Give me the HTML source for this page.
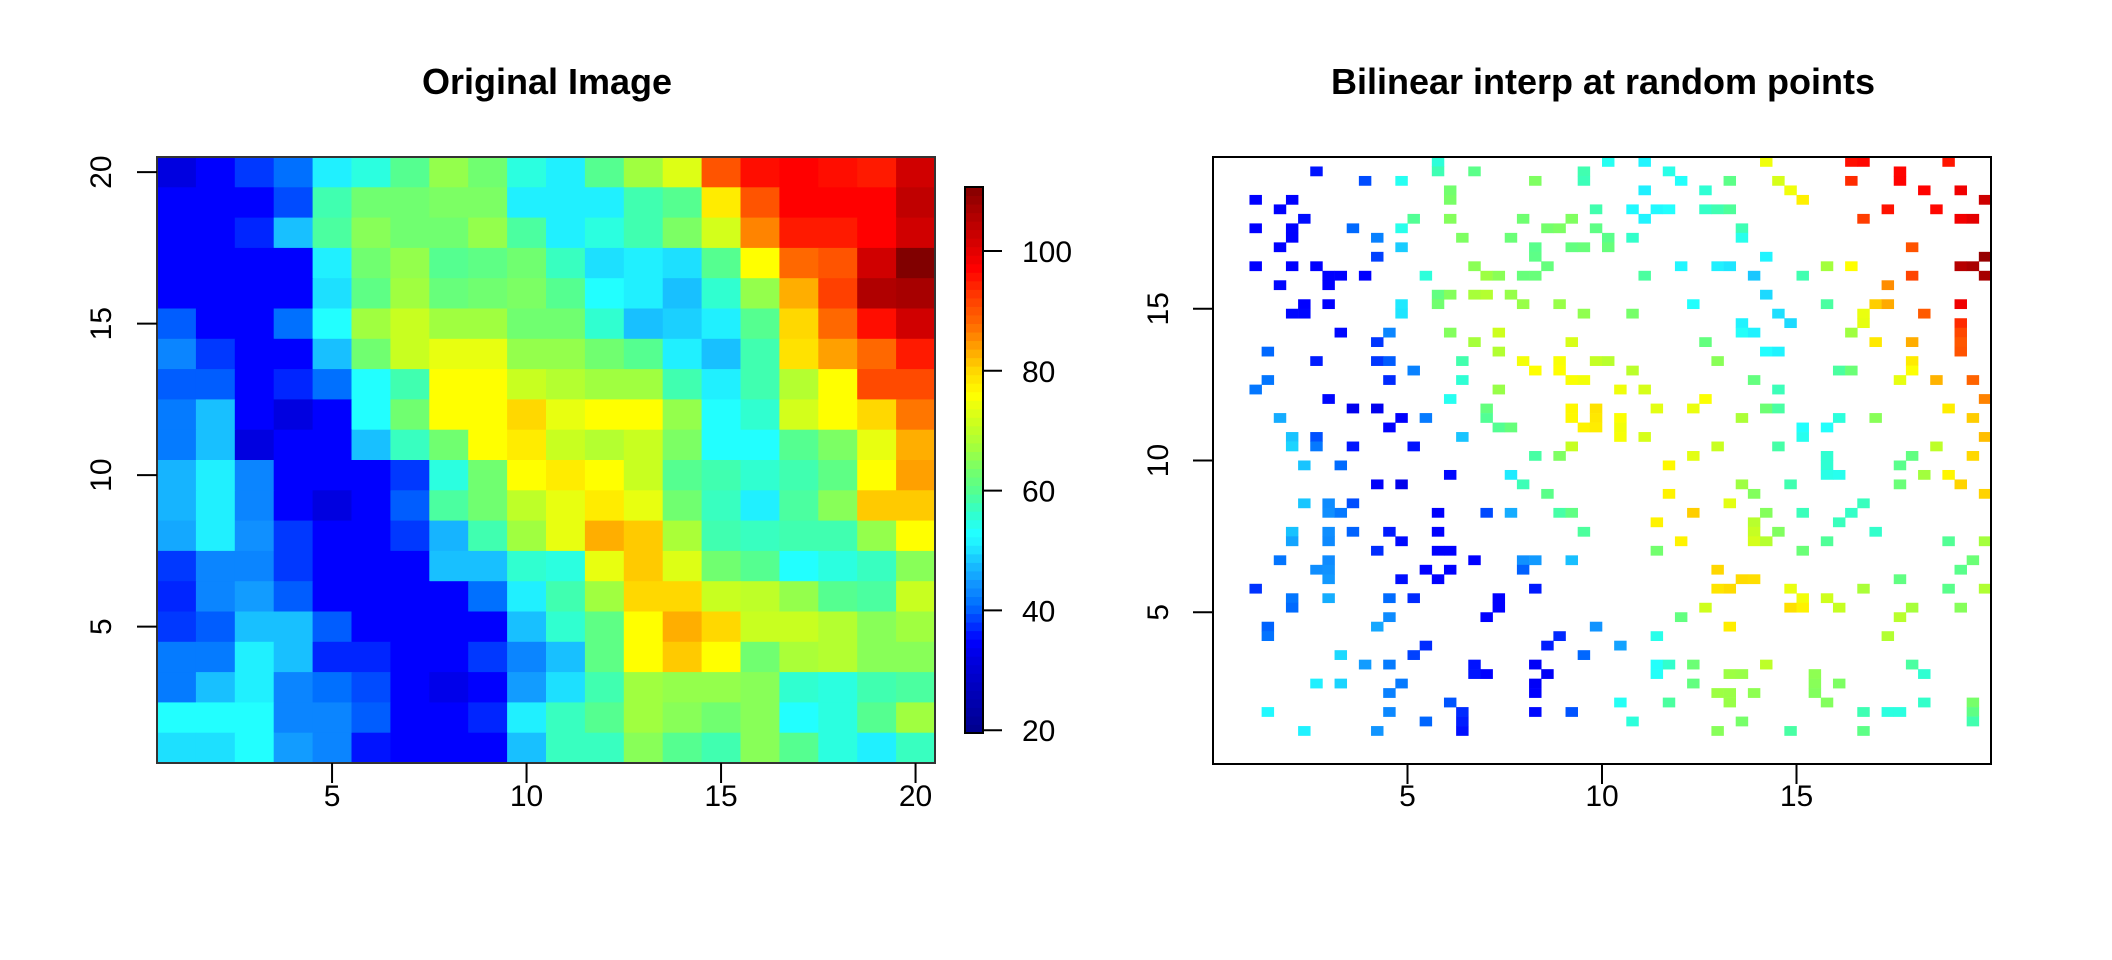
<!DOCTYPE html>
<html><head><meta charset="utf-8">
<style>
html,body{margin:0;padding:0;background:#fff;}
svg{display:block;font-family:"Liberation Sans",Arial,sans-serif;}
</style></head>
<body>
<svg id="chart" width="2112" height="960" viewBox="0 0 2112 960" xmlns="http://www.w3.org/2000/svg">
<rect x="0" y="0" width="2112" height="960" fill="#fff"/>
<text x="547" y="94" font-size="36" font-weight="bold" text-anchor="middle">Original Image</text>
<text x="1603" y="94" font-size="36" font-weight="bold" text-anchor="middle">Bilinear interp at random points</text>
<g id="heat"></g>
<g id="cbar"></g>
<g id="pts"></g>
<g id="axes"></g>
</svg>
<script>
// Heatmap values, rows listed from top (y=20) to bottom (y=1), columns x=1..20
const heatRows = [
[32,35,38,41,51,55,60,66,63,55,51,60,67,73,90,96,97,96,95,102],
[35,35,35,39,58,63,63,64,64,51,51,51,58,60,78,90,97,97,97,104],
[35,35,37,48,59,65,63,63,66,59,51,55,58,64,72,86,95,95,97,102],
[35,35,35,35,51,63,66,60,61,63,57,50,51,50,60,76,88,90,102,111],
[35,35,35,35,50,61,67,62,63,64,60,53,51,48,56,66,83,92,106,107],
[40,35,35,41,53,67,71,67,67,63,63,56,48,49,51,60,80,88,96,102],
[43,38,35,35,48,63,71,74,74,66,66,63,60,51,48,58,79,84,88,95],
[40,40,35,37,41,53,58,76,76,71,69,67,67,58,51,58,69,76,91,91],
[42,48,35,32,35,53,63,76,76,80,74,76,76,66,53,56,72,76,80,87],
[42,48,32,35,35,48,57,63,76,78,71,69,71,64,53,53,60,64,74,83],
[47,51,43,35,35,35,38,55,63,76,78,76,71,60,58,56,58,61,76,84],
[47,51,43,35,32,35,40,59,63,70,74,78,74,63,57,51,59,65,81,81],
[46,51,44,38,35,35,38,47,58,67,74,83,81,68,58,57,58,58,66,76],
[38,43,43,38,35,35,35,48,48,56,55,74,81,73,63,60,53,55,57,65],
[37,43,45,40,35,35,35,35,41,51,58,67,80,80,71,70,66,60,59,71],
[38,40,48,48,40,35,35,35,35,48,56,61,76,83,80,71,71,69,65,67],
[42,42,51,48,37,37,35,35,38,43,48,61,76,81,76,63,68,69,65,65],
[42,48,51,43,41,39,35,33,35,45,50,58,67,66,66,65,56,55,58,59],
[53,53,53,43,43,40,35,35,37,51,57,60,67,65,63,65,53,55,60,67],
[50,50,53,45,43,36,35,35,35,48,57,57,65,60,58,65,60,55,51,57]
];
const xTicks = [5,10,15,20];
const yTicks = [5,10,15,20];
const cbarTicks = [20,40,60,80,100];
const ptXTicks = [5,10,15];
const ptYTicks = [5,10,15];
// Random sample points on a 64x64 interpolation grid: [gridRow (from top), [gridCols]]
const ptGridRows = [
[0,[18,32,35,45,52,53,60]],[1,[8,18,21,30,37,56]],[2,[12,15,26,30,38,42,46,52,56]],
[3,[19,35,40,47,58,61]],[4,[3,6,19,48,63]],[5,[5,31,34,36,37,40,41,42,55,59]],
[6,[7,16,19,25,29,35,53,61,62]],[7,[3,6,11,15,27,28,31,43]],[8,[6,13,20,24,32,34,43]],
[9,[5,15,26,29,30,32,57]],[10,[13,26,45,63]],[11,[3,6,8,21,27,38,41,42,50,52,61,62]],
[12,[9,10,12,17,22,23,25,26,35,44,48,57,63]],[13,[5,9,55]],[14,[18,19,21,22,24,45]],
[15,[7,9,15,18,25,28,39,50,54,55,61]],[16,[6,7,15,30,34,46,53,58]],[17,[43,47,53,61]],
[18,[10,14,19,23,43,44,52,61]],[19,[13,21,29,40,54,57,61]],[20,[4,23,45,46,61]],
[21,[8,13,14,20,25,28,31,32,41,57]],[22,[16,26,28,34,51,52,57]],[23,[4,14,20,29,30,44,56,59,62]],
[24,[3,23,33,35,46]],[25,[9,19,40,63]],[26,[11,13,22,29,31,36,39,45,46,60]],
[27,[5,15,17,22,29,31,33,43,51,54,62]],[28,[14,23,24,30,31,33,48,50]],[29,[6,8,20,33,35,48,63]],
[30,[6,8,11,16,29,41,46,59]],[31,[26,28,39,50,57,62]],[32,[7,10,37,50,56]],
[33,[19,24,50,51,58,60]],[34,[13,15,25,43,47,56,61]],[35,[27,37,44,63]],[36,[7,9,11,42,53]],
[37,[9,10,18,22,24,28,29,39,45,48,52]],[38,[36,44,51]],[39,[6,9,11,14,18,30,44,46,54]],
[40,[6,9,15,38,44,45,50,60,63]],[41,[13,18,19,36,48]],[42,[5,9,21,25,26,29,62]],
[43,[8,9,17,19,25,41,61]],[44,[9,15,18,43,44,56]],[45,[3,26,41,42,47,53,60,63]],
[46,[6,9,14,16,23,48,50]],[47,[6,23,40,47,48,51,57,61]],[48,[14,22,38,56]],[49,[4,13,31,42]],
[50,[4,28,36,55]],[51,[17,27,33]],[52,[10,16,30]],[53,[12,14,21,26,36,37,39,45,57]],
[54,[21,22,27,36,42,43,49,58]],[55,[8,10,15,26,39,49,51]],[56,[14,26,41,42,44,49]],
[57,[19,33,37,42,50,58,62]],[58,[4,14,20,26,29,53,55,56,62]],[59,[17,20,34,43,62]],
[60,[7,13,20,41,47,53]]
];

const NS="http://www.w3.org/2000/svg";
function mk(tag,attrs,parent){const e=document.createElementNS(NS,tag);for(const k in attrs)e.setAttribute(k,attrs[k]);parent.appendChild(e);return e;}
const stops=[[18,[0,0,128]],[32,[0,0,224]],[35,[0,0,255]],[41,[0,112,255]],[44,[16,144,255]],[48,[24,192,255]],[51,[32,240,255]],[53,[34,255,255]],[56,[48,255,208]],[58,[64,255,176]],[60,[85,255,144]],[63,[112,255,112]],[67,[160,255,64]],[71,[200,255,32]],[74,[232,255,16]],[76,[255,255,0]],[80,[255,216,0]],[84,[255,160,0]],[88,[255,104,0]],[92,[255,64,0]],[97,[255,0,0]],[102,[208,0,0]],[106,[176,0,0]],[112,[120,0,0]]];
function col(v){
  if(v<=stops[0][0])return rgb(stops[0][1]);
  for(let i=1;i<stops.length;i++){if(v<=stops[i][0]){const a=stops[i-1],b=stops[i],t=(v-a[0])/(b[0]-a[0]);return rgb(a[1].map((c,k)=>c+(b[1][k]-c)*t));}}
  return rgb(stops[stops.length-1][1]);
}
function rgb(c){return "rgb("+c.map(Math.round).join(",")+")";}

// Left panel scales
const L1={l:157,t:157,w:778,h:606};
const hx=x=>L1.l+(x-0.5)/20*L1.w;
const hy=y=>L1.t+(20.5-y)/20*L1.h;
const heat=document.getElementById('heat');
const nR=heatRows.length;
heatRows.forEach((row,ri)=>{
  const yv=nR-ri;
  row.forEach((v,ci)=>{
    const xv=ci+1;
    const r=mk('rect',{x:hx(xv-0.5),y:hy(yv+0.5),width:hx(xv+0.5)-hx(xv-0.5)+0.6,height:hy(yv-0.5)-hy(yv+0.5)+0.6,fill:col(v)},heat);
    
    
  });
});
const axes=document.getElementById('axes');
mk('rect',{x:L1.l,y:L1.t,width:L1.w,height:L1.h,fill:'none',stroke:'#333',"stroke-width":2},axes);
xTicks.forEach(v=>{
  mk('line',{x1:hx(v),x2:hx(v),y1:L1.t+L1.h,y2:L1.t+L1.h+20,stroke:'#000',"stroke-width":2},axes);
  const t=mk('text',{x:hx(v),y:L1.t+L1.h+43,"font-size":30,"text-anchor":"middle"},axes);t.textContent=v;
  
  
});
yTicks.forEach(v=>{
  mk('line',{x1:L1.l-20,x2:L1.l,y1:hy(v),y2:hy(v),stroke:'#000',"stroke-width":2},axes);
  const t=mk('text',{x:0,y:0,"font-size":30,"text-anchor":"middle",transform:"translate(111,"+hy(v)+") rotate(-90)"},axes);t.textContent=v;
  
  
});

// Colorbar
const cb={l:965,w:18,top:187,bot:733};
const cby=v=>251+(100-v)*5.99;
const cbar=document.getElementById('cbar');
const vTop=100+(251-cb.top)/5.99, vBot=100-(cb.bot-251)/5.99;
const N=64;
for(let i=0;i<N;i++){
  const a=vBot+(vTop-vBot)*i/N,b=vBot+(vTop-vBot)*(i+1)/N;
  const r=mk('rect',{x:cb.l,y:cby(b),width:cb.w,height:cby(a)-cby(b)+0.5,fill:col((a+b)/2)},cbar);
  
  
}
mk('rect',{x:cb.l,y:cb.top,width:cb.w,height:cb.bot-cb.top,fill:'none',stroke:'#000',"stroke-width":2},cbar);
cbarTicks.forEach(v=>{
  mk('line',{x1:cb.l+cb.w,x2:1002,y1:cby(v),y2:cby(v),stroke:'#000',"stroke-width":2},cbar);
  const t=mk('text',{x:1022,y:cby(v)+11,"font-size":30},cbar);t.textContent=v;
  
  
});

// Right panel
const L2={l:1213,t:157,w:778,h:607};
const px=x=>L2.l+x/20*L2.w;
const py=y=>L2.t+(20-y)/20*L2.h;
function interp(x,y){
  const cx=Math.min(20,Math.max(1,x)),cy=Math.min(20,Math.max(1,y));
  const i0=Math.min(19,Math.floor(cx)),j0=Math.min(19,Math.floor(cy));
  const tx=cx-i0,ty=cy-j0;
  const z=(i,j)=>heatRows[nR-j][i-1];
  return z(i0,j0)*(1-tx)*(1-ty)+z(i0+1,j0)*tx*(1-ty)+z(i0,j0+1)*(1-tx)*ty+z(i0+1,j0+1)*tx*ty;
}
const pts=document.getElementById('pts');
const step=20/64;
ptGridRows.forEach(([r,cols])=>{
  const y=20-(r+0.5)*step;
  cols.forEach(c=>{
    const x=(c+0.5)*step;
    const e=mk('rect',{x:px(x-step/2),y:py(y+step/2),width:px(x+step/2)-px(x-step/2)+0.3,height:py(y-step/2)-py(y+step/2)+0.3,fill:col(interp(x,y))},pts);
    
    
  });
});
mk('rect',{x:L2.l,y:L2.t,width:L2.w,height:L2.h,fill:'none',stroke:'#000',"stroke-width":2},axes);
ptXTicks.forEach(v=>{
  mk('line',{x1:px(v),x2:px(v),y1:L2.t+L2.h,y2:L2.t+L2.h+20,stroke:'#000',"stroke-width":2},axes);
  const t=mk('text',{x:px(v),y:L2.t+L2.h+42,"font-size":30,"text-anchor":"middle"},axes);t.textContent=v;
  
  
});
ptYTicks.forEach(v=>{
  mk('line',{x1:L2.l-20,x2:L2.l,y1:py(v),y2:py(v),stroke:'#000',"stroke-width":2},axes);
  const t=mk('text',{x:0,y:0,"font-size":30,"text-anchor":"middle",transform:"translate(1168,"+py(v)+") rotate(-90)"},axes);t.textContent=v;
  
  
});
</script>
</body></html>
